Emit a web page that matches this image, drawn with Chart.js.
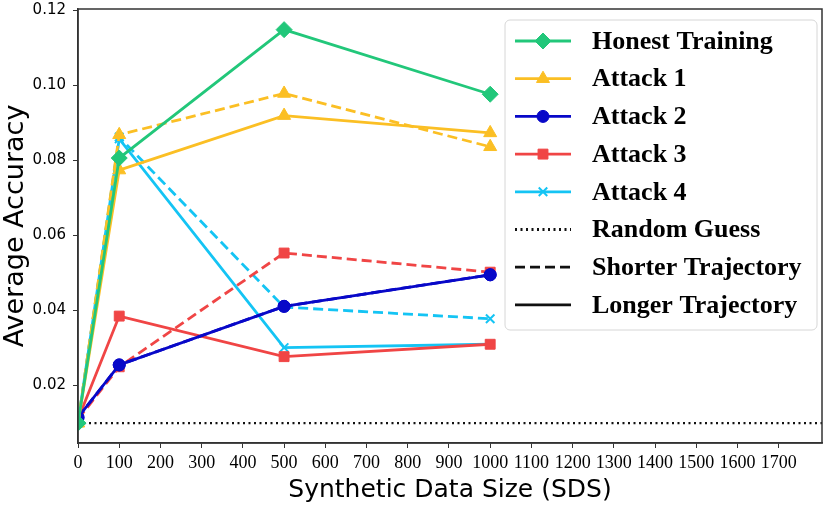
<!DOCTYPE html>
<html>
<head>
<meta charset="utf-8">
<script src="https://cdn.jsdelivr.net/npm/chart.js@4"></script>
<style>
  html, body { margin: 0; padding: 0; background: #fff; }
  #wrap { width: 831px; height: 505px; position: relative; }
</style>
</head>
<body>
<div id="wrap"><canvas id="chart"></canvas></div>
<script>
// data
const sizes = [0, 100, 500, 1000];
const honest = [0.0100, 0.0806, 0.1148, 0.0976];
const attack1Long = [0.0100, 0.0774, 0.0919, 0.0873];
const attack1Short = [0.0100, 0.0868, 0.0978, 0.0836];
const attack2Long = [0.0115, 0.0255, 0.0411, 0.0495];
const attack2Short = [0.0115, 0.0255, 0.0411, 0.0495];
const attack3Long = [0.0110, 0.0385, 0.0277, 0.0310];
const attack3Short = [0.0110, 0.0250, 0.0553, 0.0502];
const attack4Long = [0.0100, 0.0857, 0.0301, 0.0310];
const attack4Short = [0.0100, 0.0862, 0.0409, 0.0378];
const randomGuess = 0.01;
const xRange = [0, 1805];
const yRange = [0.0047, 0.1203];
const xTicks = [0, 100, 200, 300, 400, 500, 600, 700, 800, 900, 1000, 1100, 1200, 1300, 1400, 1500, 1600, 1700];
const yTicks = [0.02, 0.04, 0.06, 0.08, 0.10, 0.12];

const GREEN = '#22c77a', YELLOW = '#fbbf24', BLUE = '#0808c8', RED = '#f04545', CYAN = '#14c4f4';
const DASH = [10, 5];

function pts(vals) {
    return sizes.map((s, i) => ({ x: s, y: vals[i] }));
}

function series(label, vals, color, style, radius, dashed) {
    return {
        label,
        data: pts(vals),
        borderColor: color,
        backgroundColor: color,
        borderWidth: 2.8,
        borderDash: dashed ? DASH : [],
        pointStyle: style,
        pointRadius: radius,
        pointHoverRadius: radius,
        pointBorderWidth: style === 'crossRot' ? 2 : 1,
        pointBorderColor: color,
        tension: 0
    };
}

const datasets = [
    series('Honest Training', honest, GREEN, 'rectRot', 8, false),
    series('Attack 1', attack1Long, YELLOW, 'triangle', 7.5, false),
    series('Attack 1 short', attack1Short, YELLOW, 'triangle', 7.5, true),
    series('Attack 2', attack2Long, BLUE, 'circle', 6, false),
    series('Attack 2 short', attack2Short, BLUE, 'circle', 6, true),
    series('Attack 3', attack3Long, RED, 'rect', 7, false),
    series('Attack 3 short', attack3Short, RED, 'rect', 7, true),
    series('Attack 4', attack4Long, CYAN, 'crossRot', 6, false),
    series('Attack 4 short', attack4Short, CYAN, 'crossRot', 6, true),
    {
        label: 'Random Guess',
        data: [{ x: xRange[0], y: randomGuess }, { x: xRange[1], y: randomGuess }],
        borderColor: '#111',
        borderWidth: 2.2,
        borderDash: [2, 3.5],
        pointRadius: 0
    }
];

const legendItems = [
    { text: 'Honest Training', color: GREEN, style: 'rectRot', r: 8, dash: [] },
    { text: 'Attack 1', color: YELLOW, style: 'triangle', r: 7.5, dash: [] },
    { text: 'Attack 2', color: BLUE, style: 'circle', r: 6, dash: [] },
    { text: 'Attack 3', color: RED, style: 'rect', r: 7, dash: [] },
    { text: 'Attack 4', color: CYAN, style: 'crossRot', r: 6, dash: [] },
    { text: 'Random Guess', color: '#111', style: null, dash: [2, 3.5] },
    { text: 'Shorter Trajectory', color: '#111', style: null, dash: DASH },
    { text: 'Longer Trajectory', color: '#111', style: null, dash: [] }
];

// frame around plot + matplotlib-like legend
const framePlugin = {
    id: 'frame',
    afterDraw(chart) {
        const ctx = chart.ctx;
        const a = chart.chartArea;
        ctx.save();
        ctx.strokeStyle = '#333';
        ctx.lineWidth = 1.5;
        ctx.strokeRect(a.left, a.top, a.right - a.left, a.bottom - a.top);

        // legend box
        const bx = 505, by = 20, bw = 312, bh = 310, rad = 5;
        ctx.beginPath();
        ctx.moveTo(bx + rad, by);
        ctx.arcTo(bx + bw, by, bx + bw, by + bh, rad);
        ctx.arcTo(bx + bw, by + bh, bx, by + bh, rad);
        ctx.arcTo(bx, by + bh, bx, by, rad);
        ctx.arcTo(bx, by, bx + bw, by, rad);
        ctx.closePath();
        ctx.fillStyle = 'rgba(255,255,255,0.85)';
        ctx.fill();
        ctx.strokeStyle = '#d6d6d6';
        ctx.lineWidth = 1;
        ctx.stroke();

        ctx.font = 'bold 26px "Liberation Serif", "Times New Roman", serif';
        ctx.textBaseline = 'middle';
        legendItems.forEach((it, i) => {
            const y = 41 + i * 37.7;
            ctx.save();
            ctx.strokeStyle = it.color;
            ctx.lineWidth = 2.8;
            ctx.setLineDash(it.dash);
            ctx.beginPath();
            ctx.moveTo(515, y);
            ctx.lineTo(571, y);
            ctx.stroke();
            ctx.restore();
            if (it.style) {
                ctx.save();
                ctx.fillStyle = it.color;
                ctx.strokeStyle = it.color;
                ctx.lineWidth = it.style === 'crossRot' ? 2 : 1;
                Chart.helpers.drawPoint(ctx, {
                    pointStyle: it.style,
                    radius: it.r,
                    rotation: 0,
                    borderWidth: ctx.lineWidth
                }, 543, y);
                ctx.restore();
            }
            ctx.fillStyle = '#000';
            ctx.fillText(it.text, 592, y + 1);
        });
        ctx.restore();
    }
};

const ctx = document.getElementById('chart').getContext('2d');
new Chart(ctx, {
    type: 'line',
    data: { datasets },
    options: {
        responsive: true,
        maintainAspectRatio: false,
        animation: false,
        layout: { padding: { top: 6, right: 3, left: 0, bottom: 0 } },
        scales: {
            x: {
                type: 'linear',
                min: xRange[0],
                max: xRange[1],
                afterBuildTicks(scale) { scale.ticks = xTicks.map(v => ({ value: v })); },
                afterFit(scale) { scale.height = 62; scale.paddingLeft = 0; scale.paddingRight = 0; },
                grid: { drawOnChartArea: false, drawTicks: true, tickLength: 5, color: '#333' },
                border: { color: '#333', width: 1.5 },
                ticks: {
                    color: '#000',
                    padding: 4,
                    maxRotation: 0,
                    autoSkip: false,
                    callback: v => String(v),
                    font: { family: '"Liberation Serif", serif', size: 18 }
                },
                title: {
                    display: true,
                    text: 'Synthetic Data Size (SDS)',
                    color: '#000',
                    padding: { top: 0, bottom: 0 },
                    font: { family: '"DejaVu Sans", sans-serif', size: 25 }
                }
            },
            y: {
                min: yRange[0],
                max: yRange[1],
                afterBuildTicks(scale) { scale.ticks = yTicks.map(v => ({ value: v })); },
                afterFit(scale) { scale.width = 78; scale.paddingTop = 0; scale.paddingBottom = 0; },
                grid: { drawOnChartArea: false, drawTicks: true, tickLength: 5, color: '#333' },
                border: { color: '#333', width: 1.5 },
                ticks: {
                    color: '#000',
                    padding: 7,
                    callback: v => v.toFixed(2),
                    font: { family: '"DejaVu Sans", sans-serif', size: 15 }
                },
                title: {
                    display: true,
                    text: 'Average Accuracy',
                    color: '#000',
                    padding: { top: 0, bottom: 0 },
                    font: { family: '"DejaVu Sans", sans-serif', size: 27 }
                }
            }
        },
        plugins: {
            legend: { display: false },
            tooltip: { enabled: false }
        }
    },
    plugins: [framePlugin]
});
</script>
</body>
</html>
